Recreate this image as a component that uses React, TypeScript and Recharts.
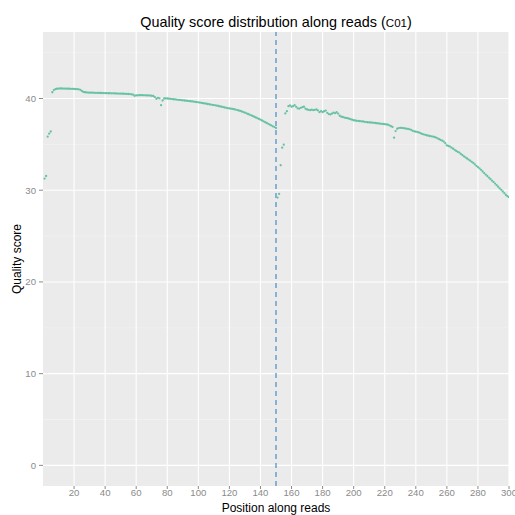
import React from "react";
import {
  ScatterChart,
  Scatter,
  XAxis,
  YAxis,
  CartesianGrid,
  ReferenceLine,
} from "recharts";

// Mean quality score per cycle, forward read (cycles 1-150)
const read1Quality: number[] = [
  31.27, 31.55, 35.84, 36.16, 36.4, 40.68, 40.92, 41.02, 41.06, 41.08,
  41.09, 41.09, 41.08, 41.08, 41.07, 41.07, 41.06, 41.05, 41.05, 41.04,
  41.03, 41.02, 41.0, 40.95, 40.82, 40.72, 40.68, 40.66, 40.65, 40.64,
  40.63, 40.63, 40.62, 40.62, 40.61, 40.61, 40.6, 40.6, 40.59, 40.58,
  40.58, 40.57, 40.57, 40.56, 40.56, 40.55, 40.55, 40.54, 40.54, 40.53,
  40.53, 40.52, 40.51, 40.5, 40.49, 40.48, 40.46, 40.42, 40.3, 40.33,
  40.35, 40.36, 40.36, 40.36, 40.35, 40.35, 40.34, 40.33, 40.32, 40.3,
  40.27, 40.15, 39.97, 40.07, 40.02, 39.27, 39.78, 40.0, 40.02, 40.0,
  39.98, 39.96, 39.94, 39.92, 39.9, 39.88, 39.86, 39.84, 39.82, 39.8,
  39.78, 39.76, 39.74, 39.72, 39.7, 39.68, 39.66, 39.63, 39.61, 39.58,
  39.55, 39.52, 39.49, 39.46, 39.43, 39.4, 39.37, 39.34, 39.31, 39.28,
  39.25, 39.22, 39.18, 39.14, 39.1, 39.06, 39.02, 38.98, 38.95, 38.92,
  38.89, 38.86, 38.83, 38.79, 38.74, 38.69, 38.64, 38.58, 38.52, 38.45,
  38.38, 38.31, 38.24, 38.17, 38.09, 38.01, 37.93, 37.85, 37.77, 37.69,
  37.6, 37.51, 37.42, 37.33, 37.24, 37.15, 37.06, 36.97, 36.88, 36.79,
];

// Mean quality score per cycle, reverse read (cycles 151-300)
const read2Quality: number[] = [
  29.2, 29.6, 32.72, 34.64, 34.97, 38.37, 38.62, 39.16, 39.24, 39.1,
  39.16, 39.27, 39.09, 38.92, 38.9, 38.98, 39.05, 39.1, 38.88, 38.8,
  38.76, 38.73, 38.78, 38.73, 38.76, 38.8, 38.7, 38.51, 38.62, 38.51,
  38.62, 38.68, 38.44, 38.3, 38.26, 38.35, 38.46, 38.4, 38.5, 38.36,
  38.12, 38.02, 37.98, 37.92, 37.88, 37.85, 37.8, 37.74, 37.68, 37.63,
  37.6, 37.57, 37.55, 37.53, 37.51, 37.49, 37.46, 37.43, 37.41, 37.39,
  37.38, 37.36, 37.35, 37.33, 37.3, 37.28, 37.26, 37.24, 37.22, 37.2,
  37.17, 37.14, 37.08, 36.98, 36.9, 35.73, 36.45, 36.7, 36.78, 36.8,
  36.79, 36.77, 36.74, 36.71, 36.68, 36.64, 36.58, 36.47, 36.42, 36.38,
  36.34, 36.3, 36.22, 36.14, 36.09, 36.04, 35.99, 35.95, 35.91, 35.88,
  35.85, 35.8, 35.74, 35.66, 35.57, 35.48, 35.4, 35.3, 35.12, 34.88,
  34.82, 34.76, 34.64, 34.53, 34.4, 34.28, 34.18, 34.1, 33.96, 33.82,
  33.7, 33.58, 33.46, 33.34, 33.22, 33.1, 32.98, 32.82, 32.66, 32.52,
  32.38, 32.22, 32.04, 31.87, 31.7, 31.55, 31.38, 31.22, 31.05, 30.9,
  30.72, 30.55, 30.38, 30.2, 30.04, 29.86, 29.68, 29.48, 29.34, 29.24,
];

const readLength = 150;
const xTicks = [20, 40, 60, 80, 100, 120, 140, 160, 180, 200, 220, 240, 260, 280, 300];
const yTicks = [0, 10, 20, 30, 40];
const yMinorTicks = [5, 15, 25, 35, 45];

const points = [...read1Quality, ...read2Quality].map((q, i) => ({
  pos: i + 1,
  q,
}));

const FONT = '"Liberation Sans", Arial, Helvetica, sans-serif';
const TICK_STYLE = { fill: "#8a8a8a", fontSize: 9.6, fontFamily: FONT };

const Dot = (props: any) => (
  <circle cx={props.cx} cy={props.cy} r={1.15} fill="#66C2A5" />
);

export default function App() {
  return (
    <div style={{ position: "absolute", left: 0, top: 0, width: 515, height: 515, background: "#fff" }}>
      <ScatterChart
        width={515}
        height={515}
        margin={{ top: 32, right: 6, bottom: 0, left: 0 }}
      >
        <CartesianGrid
          fill="#EBEBEB"
          stroke="#F5F5F5"
          strokeWidth={0.6}
          vertical={false}
          horizontalValues={yMinorTicks}
        />
        <CartesianGrid
          stroke="#FFFFFF"
          strokeWidth={1.1}
          horizontalValues={yTicks}
          verticalValues={xTicks}
        />
        <XAxis
          type="number"
          dataKey="pos"
          domain={[0, 300]}
          ticks={xTicks}
          interval={0}
          allowDataOverflow
          height={29}
          axisLine={false}
          tickSize={3}
          tickMargin={0}
          tickLine={{ stroke: "#8a8a8a" }}
          tick={TICK_STYLE}
        />
        <YAxis
          type="number"
          dataKey="q"
          domain={[-2.25, 47.25]}
          ticks={yTicks}
          interval={0}
          allowDataOverflow
          width={43}
          axisLine={false}
          tickSize={4}
          tickMargin={3}
          tickLine={{ stroke: "#8a8a8a" }}
          tick={TICK_STYLE}
        />
        <Scatter data={points} shape={Dot} isAnimationActive={false} />
        <ReferenceLine
          x={readLength}
          stroke="#5E9ACB"
          strokeWidth={1.4}
          strokeDasharray="5 4"
        />
      </ScatterChart>
      <svg
        width={515}
        height={515}
        style={{ position: "absolute", left: 0, top: 0, pointerEvents: "none" }}
      >
        <text x={276} y={27} textAnchor="middle" fontFamily={FONT} fontSize={14.4} fill="#000">
          Quality score distribution along reads (
          <tspan fontSize={11.5}>C01</tspan>)
        </text>
        <text x={276} y={512.3} textAnchor="middle" fontFamily={FONT} fontSize={12} fill="#000">
          Position along reads
        </text>
        <text
          x={21}
          y={259}
          textAnchor="middle"
          fontFamily={FONT}
          fontSize={12}
          fill="#000"
          transform="rotate(-90 21 259)"
        >
          Quality score
        </text>
      </svg>
    </div>
  );
}
